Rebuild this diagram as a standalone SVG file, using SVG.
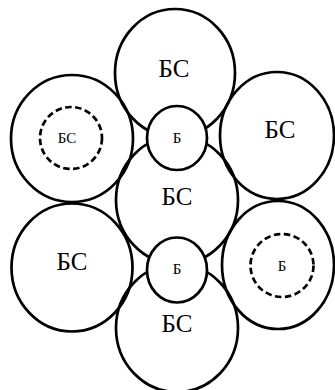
<svg xmlns="http://www.w3.org/2000/svg" width="335" height="390" viewBox="0 0 335 390">
<style>
.big{fill:none;stroke:#000;stroke-width:2.7}
.small{fill:#fff;stroke:#000;stroke-width:2.7}
.dash{fill:none;stroke:#000;stroke-width:2.7;stroke-dasharray:6.5 3.5}
text{fill:#000;text-anchor:middle;font-family:"Liberation Serif","Times New Roman",serif}
.tl{font-size:25px}
.ts{font-size:15px}
</style>
<rect width="335" height="390" fill="#fff"/>
<g id="top"><ellipse class="big" cx="175" cy="73" rx="60" ry="64"/><text class="tl" x="174" y="77">БС</text></g>
<g id="left-upper"><ellipse class="big" cx="72" cy="138.5" rx="61" ry="63.5"/><circle class="dash" cx="71" cy="138" r="31"/><text class="ts" x="67" y="142.5">БС</text></g>
<g id="right-upper"><ellipse class="big" cx="277" cy="135.5" rx="57" ry="63.5"/><text class="tl" x="280" y="138">БС</text></g>
<g id="center"><ellipse class="big" cx="177" cy="200" rx="61" ry="64"/><text class="tl" x="177" y="205">БС</text></g>
<g id="left-lower"><ellipse class="big" cx="72" cy="267.5" rx="60.5" ry="64"/><text class="tl" x="72" y="270">БС</text></g>
<g id="right-lower"><ellipse class="big" cx="278" cy="265" rx="56" ry="64"/><circle class="dash" cx="282" cy="265.5" r="31.5"/><text class="ts" x="282" y="270.5">Б</text></g>
<g id="bottom"><ellipse class="big" cx="177" cy="328" rx="61" ry="64"/><text class="tl" x="177" y="332">БС</text></g>
<g id="small-upper"><ellipse class="small" cx="177" cy="138" rx="30" ry="32"/><text class="ts" x="177" y="142.5">Б</text></g>
<g id="small-lower"><ellipse class="small" cx="177" cy="270" rx="30" ry="32.5"/><text class="ts" x="177" y="273.5">Б</text></g>
<g id="connectors"/>
</svg>
